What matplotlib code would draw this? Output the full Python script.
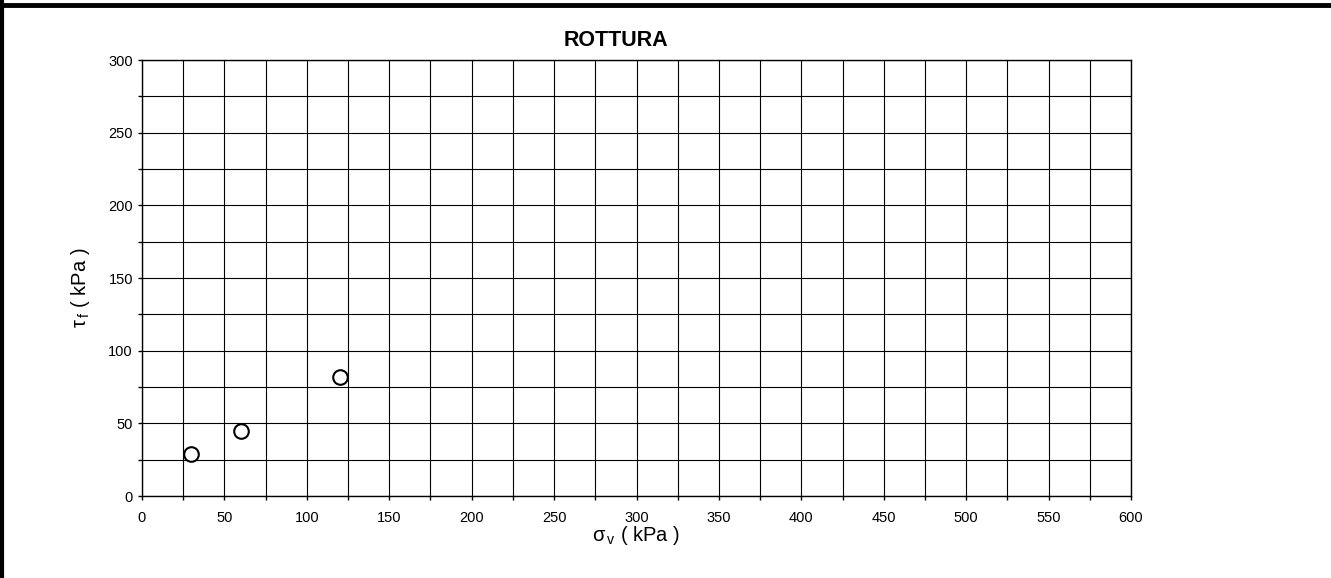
from matplotlib import pyplot as plt
from matplotlib.ticker import MultipleLocator
from matplotlib.lines import Line2D

# failure points (normal stress, shear stress)
sigma_v = [30, 60, 120]
tau_f = [29, 45, 82]

x_ticks = list(range(0, 601, 50))
y_ticks = list(range(0, 301, 50))

plt.rcParams['font.family'] = ['Liberation Sans', 'DejaVu Sans']
plt.rcParams['mathtext.fontset'] = 'custom'
plt.rcParams['mathtext.rm'] = 'Liberation Sans'

fig = plt.figure(figsize=(13.31, 5.78), dpi=100)
ax = fig.add_axes([142 / 1331, 1 - 496 / 578, 989 / 1331, 436 / 578])

ax.plot(sigma_v, tau_f, linestyle='none', marker='o', markersize=10.5,
        markerfacecolor='white', markeredgecolor='black',
        markeredgewidth=1.5, zorder=5)

ax.set_xlim(0, 600)
ax.set_ylim(0, 300)
ax.set_xticks(x_ticks)
ax.set_yticks(y_ticks)
ax.xaxis.set_minor_locator(MultipleLocator(25))
ax.yaxis.set_minor_locator(MultipleLocator(25))
ax.grid(which='both', color='black', linewidth=0.8)
ax.set_axisbelow(True)
ax.tick_params(which='both', direction='out', length=3, width=1,
               labelsize=10.5, color='black')
ax.tick_params(axis='x', pad=7.5)
for s in ax.spines.values():
    s.set_linewidth(1)

ax.set_xlabel('σ$_{\\,\\mathrm{v}}$ ( kPa )', fontsize=14.5)
ax.set_ylabel('τ$_{\\,\\mathrm{f}}$ ( kPa )', fontsize=14.5)
ax.xaxis.set_label_coords(0.5, -0.064)
ax.yaxis.set_label_coords(-0.0506, 0.477)
fig.text(616 / 1331, 1 - 40 / 578, 'ROTTURA', fontsize=15.5,
         fontweight='bold', ha='center', va='center')

# heavy frame lines on top and left edge
fig.add_artist(Line2D([0, 1], [1 - 5 / 578] * 2, color='black', linewidth=3.5,
                      transform=fig.transFigure))
fig.add_artist(Line2D([1.5 / 1331] * 2, [0, 1], color='black', linewidth=3,
                      transform=fig.transFigure))

fig.savefig('out.png', dpi=100)
